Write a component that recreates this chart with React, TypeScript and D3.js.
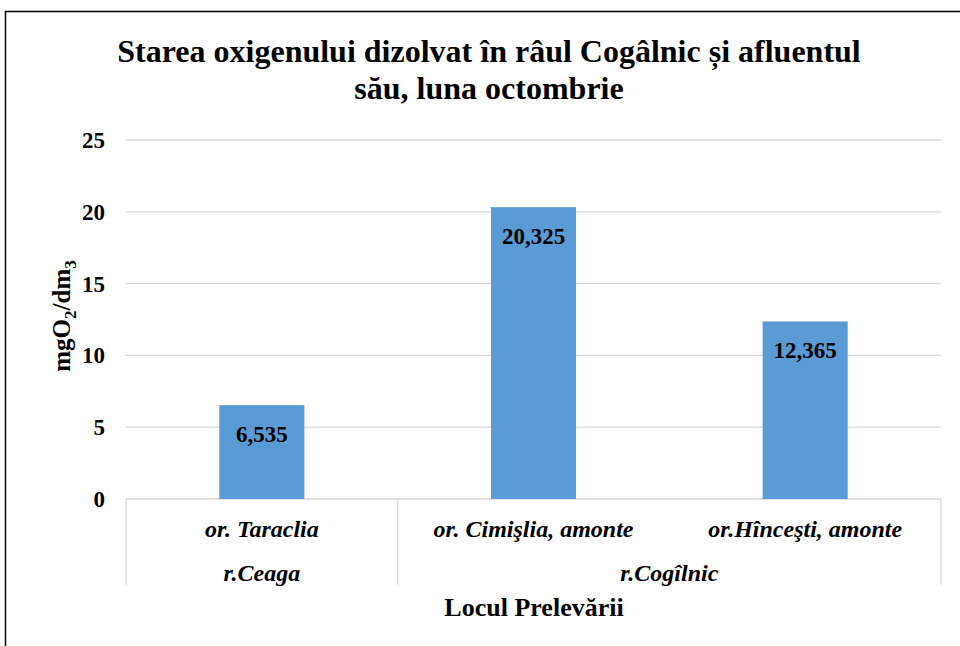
import React from "react";
import * as d3 from "d3";

const categories = ["or. Taraclia", "or. Cimişlia, amonte", "or.Hînceşti, amonte"];
const groups = ["r.Ceaga", "r.Cogîlnic", "r.Cogîlnic"];
const values = [6.535, 20.325, 12.365];
const yTicks = [0, 5, 10, 15, 20, 25];
const titleLines = ["Starea oxigenului dizolvat în râul Cogâlnic și afluentul", "său, luna octombrie"];
const xTitle = "Locul Prelevării";

const W = 960, H = 646;
const FONT = "'Liberation Serif', 'Times New Roman', serif";

export default function App() {
  const left = 126, right = 941, top = 140, bottom = 499;
  const y = d3.scaleLinear().domain([0, 25]).range([bottom, top]);
  const x = d3.scaleBand<string>().domain(categories).range([left, right]).paddingInner(0.687).paddingOuter(0.3435);
  const fmt = (v: number) => d3.format(".3f")(v).replace(".", ",");

  const groupSpans: { name: string; start: number; end: number }[] = [];
  categories.forEach((c, i) => {
    const s = left + i * x.step();
    const e = s + x.step();
    const last = groupSpans[groupSpans.length - 1];
    if (last && last.name === groups[i]) last.end = e;
    else groupSpans.push({ name: groups[i], start: s, end: e });
  });
  const boundaries = [left, ...groupSpans.map((g) => g.end)];

  return (
    <svg width={W} height={H} style={{ position: "absolute", left: 0, top: 0, background: "#fff" }} fontFamily={FONT}>
      <rect x={0} y={0} width={W} height={H} fill="#fff" />
      <rect x={5.5} y={11.5} width={1200} height={1200} fill="none" stroke="#000" strokeWidth={1.5} />
      {titleLines.map((t, i) => (
        <text key={i} x={489} y={62 + i * 37} textAnchor="middle" fontSize={32} fontWeight="bold" fill="#000">{t}</text>
      ))}
      {yTicks.map((t) => (
        <g key={t}>
          <line x1={left} x2={right} y1={y(t)} y2={y(t)} stroke="#D9D9D9" strokeWidth={1.3} />
          <text x={105} y={y(t)} dy="0.35em" textAnchor="end" fontSize={23} fontWeight="bold" fill="#000">{t}</text>
        </g>
      ))}
      {categories.map((c, i) => (
        <g key={c}>
          <rect x={x(c)} y={y(values[i])} width={x.bandwidth()} height={y(0) - y(values[i])} fill="#5B9BD5" />
          <text x={(x(c) as number) + x.bandwidth() / 2} y={y(values[i]) + 29} dy="0.35em" textAnchor="middle" fontSize={23} fontWeight="bold" fill="#000">{fmt(values[i])}</text>
          <text x={(x(c) as number) + x.bandwidth() / 2} y={529} dy="0.35em" textAnchor="middle" fontSize={24} fontWeight="bold" fontStyle="italic" fill="#000">{c}</text>
        </g>
      ))}
      {boundaries.map((b, i) => (
        <line key={i} x1={b} x2={b} y1={bottom} y2={585} stroke="#D9D9D9" strokeWidth={1.3} />
      ))}
      {groupSpans.map((g, i) => (
        <text key={i} x={(g.start + g.end) / 2} y={573} dy="0.35em" textAnchor="middle" fontSize={24} fontWeight="bold" fontStyle="italic" fill="#000">{g.name}</text>
      ))}
      <text x={534} y={607} dy="0.35em" textAnchor="middle" fontSize={26} fontWeight="bold" fill="#000">{xTitle}</text>
      <text transform="translate(70,316) rotate(-90)" textAnchor="middle" fontSize={25} fontWeight="bold" fill="#000">
        mgO<tspan fontSize={17} dy={6}>2</tspan><tspan dy={-6}>/dm</tspan><tspan fontSize={17} dy={6}>3</tspan>
      </text>
    </svg>
  );
}
